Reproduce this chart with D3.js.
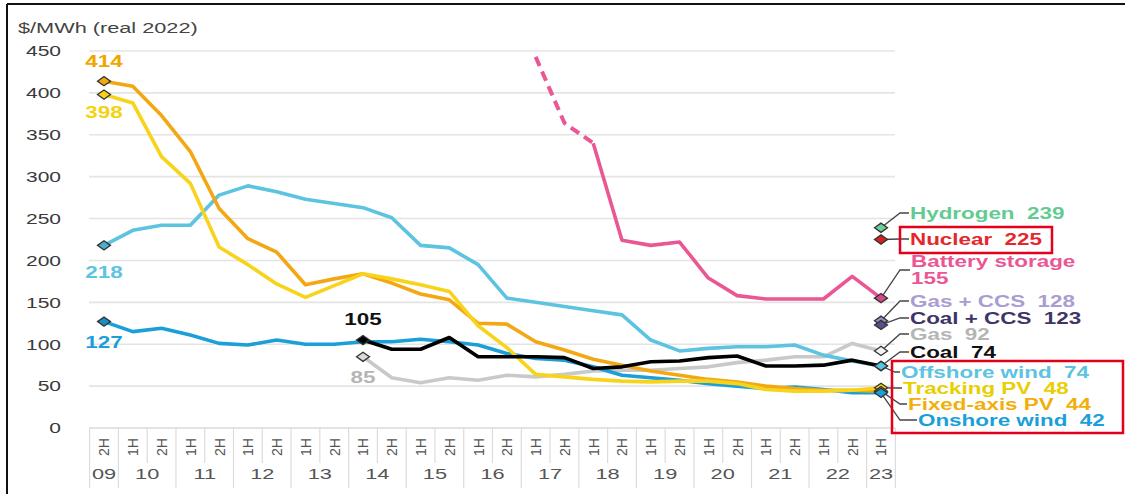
<!DOCTYPE html>
<html><head><meta charset="utf-8">
<script src="https://cdn.jsdelivr.net/npm/d3@7"></script>
<style>
body{margin:0;background:#fff;}
svg{display:block;font-family:"Liberation Sans",Arial,sans-serif;}
text{white-space:pre;}
</style>
</head><body>
<svg id="c" width="1125" height="494"></svg>
<script>
// ---------- DATA ----------
const periods = ["2H09","1H10","2H10","1H11","2H11","1H12","2H12","1H13","2H13","1H14",
  "2H14","1H15","2H15","1H16","2H16","1H17","2H17","1H18","2H18","1H19",
  "2H19","1H20","2H20","1H21","2H21","1H22","2H22","1H23"];
const yTicks = [0,50,100,150,200,250,300,350,400,450];
const yUnit = "$/MWh (real 2022)";

const trackingPV   = [398,388,324,292,216,195,172,156,170,184,178,171,163,122,96,64,61,58,56,55,56,56,53,46,44,44,45,48];
const fixedAxisPV  = [414,408,373,330,262,226,210,171,178,184,173,160,153,125,124,103,93,82,75,68,63,58,55,50,47,45,45,44];
const offshoreWind = [218,236,242,242,278,289,282,273,268,263,251,218,215,195,155,150,145,140,135,105,92,95,97,97,99,87,80,74];
const onshoreWind  = [127,115,119,111,101,99,105,100,100,103,103,106,103,99,89,83,81,73,63,60,57,53,50,47,49,46,42,42];
const coal    = [null,null,null,null,null,null,null,null,null,105,94,94,108,85,85,85,84,71,73,79,80,84,86,74,74,75,81,74];
const gas     = [null,null,null,null,null,null,null,null,null,85,60,54,60,57,63,61,64,68,69,69,71,73,78,81,85,85,101,92];
const battery = [null,null,null,null,null,null,null,null,null,null,null,null,null,null,null,443,364,340,224,218,222,179,158,154,154,154,181,155];
const batteryDashedUntil = "1H18";
const hydrogenLatest = 239;
const nuclearLatest = 225;
const gasCcsLatest = 128;
const coalCcsLatest = 123;

// ---------- STYLE / LAYOUT ----------
const C = {
  tracking:"#F8D31C", fixed:"#F3A712", offshore:"#5CC3E0", onshore:"#1B9FD9",
  coal:"#000000", gas:"#C9C9C9", battery:"#EA5794", hydrogen:"#63CB92",
  nuclear:"#E02A2A", gasccs:"#A99DD2", coalccs:"#3E3566"
};
const STR = 1.4; // horizontal text stretch of the reference
const svg = d3.select("#c");
const x = d3.scalePoint().domain(periods).range([104, 881]);
const step = x.step();
const y = d3.scaleLinear().domain([0,450]).range([428, 51]);
const gridX0 = 89, gridX1 = 895;

function stretch(sel, k){
  sel.each(function(){
    const w = this.getComputedTextLength();
    this.setAttribute("textLength", w*k);
    this.setAttribute("lengthAdjust","spacingAndGlyphs");
  });
}

// border
svg.append("line").attr("x1",7).attr("x2",1125).attr("y1",4).attr("y2",4).attr("stroke","#111").attr("stroke-width",2);
svg.append("line").attr("x1",7).attr("x2",7).attr("y1",4).attr("y2",494).attr("stroke","#111").attr("stroke-width",2);

// unit label
svg.append("text").attr("x",18).attr("y",33).attr("fill","#444").attr("font-size",15.5).text(yUnit).call(stretch, STR);

// gridlines
svg.append("g").selectAll("line").data(yTicks.filter(d=>d>0)).join("line")
  .attr("x1",gridX0).attr("x2",gridX1).attr("y1",d=>y(d)).attr("y2",d=>y(d))
  .attr("stroke","#E4E4E4").attr("stroke-width",1.6);

// y axis
const yAxis = svg.append("g").attr("transform","translate(61,0)")
  .call(d3.axisLeft(y).tickValues(yTicks).tickSize(0).tickPadding(0));
yAxis.select(".domain").remove();
yAxis.selectAll("text").attr("font-size",15).attr("fill","#3a3a3a")
  .attr("font-family","'Liberation Sans',Arial,sans-serif").call(stretch, STR);

// x axis table
const tableTop = y(0), halfBottom = 463, tableBottom = 488;
svg.append("line").attr("x1",gridX0).attr("x2",gridX1).attr("y1",tableTop).attr("y2",tableTop)
  .attr("stroke","#DADADA").attr("stroke-width",1.6);
const xAxis = svg.append("g").attr("transform",`translate(0,${tableTop})`)
  .call(d3.axisBottom(x).tickSize(0).tickFormat(p=>p.slice(0,2)));
xAxis.select(".domain").remove();
xAxis.selectAll("text")
  .attr("transform","translate(0,19) rotate(-90)")
  .attr("dy","0.35em").attr("y",0).attr("text-anchor","middle")
  .attr("font-size",14).attr("fill","#555")
  .attr("font-family","'Liberation Sans',Arial,sans-serif");
// separators
const seps = periods.map((p,i)=>({xv:x(p)-step/2, year:i===0||p.startsWith("1H")}));
seps.push({xv:x(periods[periods.length-1])+step/2, year:true});
svg.append("g").selectAll("line").data(seps).join("line")
  .attr("x1",d=>d.xv).attr("x2",d=>d.xv).attr("y1",tableTop).attr("y2",d=>d.year?tableBottom:halfBottom)
  .attr("stroke","#DCDCDC").attr("stroke-width",1.2);
// year labels
const years = [];
periods.forEach((p,i)=>{
  const yr = p.slice(2);
  let g = years.find(e=>e.yr===yr);
  if(!g){ g={yr, xs:[]}; years.push(g); }
  g.xs.push(x(p));
});
svg.append("g").selectAll("text").data(years).join("text")
  .attr("x",d=>d3.mean(d.xs)).attr("y",479).attr("text-anchor","middle")
  .attr("font-size",15).attr("fill","#555").text(d=>d.yr).call(stretch, 1.45);

// ---------- LINES ----------
function series(vals){ return periods.map((p,i)=>({p, v:vals[i]})); }
const line = d3.line().defined(d=>d.v!=null).x(d=>x(d.p)).y(d=>y(d.v));
const lw = 3.6;
function drawLine(vals, color, w){
  svg.append("path").datum(series(vals)).attr("d",line).attr("fill","none")
    .attr("stroke",color).attr("stroke-width",w||lw).attr("stroke-linejoin","round");
}
drawLine(gas, C.gas);
drawLine(offshoreWind, C.offshore);
drawLine(onshoreWind, C.onshore);
// battery: dashed part then solid
const bIdx = periods.indexOf(batteryDashedUntil);
const bs = series(battery);
svg.append("path").datum(bs.slice(0,bIdx+1)).attr("d",line).attr("fill","none")
  .attr("stroke",C.battery).attr("stroke-width",4).attr("stroke-dasharray","10,6");
svg.append("path").datum(bs.slice(bIdx)).attr("d",line).attr("fill","none")
  .attr("stroke",C.battery).attr("stroke-width",lw).attr("stroke-linejoin","round");
drawLine(fixedAxisPV, C.fixed);
drawLine(trackingPV, C.tracking);
drawLine(coal, C.coal);

// ---------- MARKERS ----------
const diamond = "M-6.5,0L0,-4.6L6.5,0L0,4.6Z";
function marker(p, v, fill){
  svg.append("path").attr("d",diamond).attr("transform",`translate(${x(p)},${y(v)})`)
    .attr("fill",fill).attr("stroke","#333").attr("stroke-width",1.3);
}
function firstIdx(a){ return a.findIndex(v=>v!=null); }

// start labels
const startLabels = [
  {vals:fixedAxisPV, color:"#F0A500", fill:C.fixed, dy:-20},
  {vals:trackingPV, color:"#F5D20F", fill:C.tracking, dy:18},
  {vals:offshoreWind, color:"#5CC3E0", fill:"#4AAFCF", dy:27},
  {vals:onshoreWind, color:"#1B9FD9", fill:"#1A8DC2", dy:21},
  {vals:coal, color:"#111", fill:"#000", dy:-21},
  {vals:gas, color:"#B5B5B5", fill:"#DADADA", dy:21}
];
startLabels.forEach(s=>{
  const i = firstIdx(s.vals), p = periods[i], v = s.vals[i];
  marker(p, v, s.fill);
  svg.append("text").attr("x",x(p)).attr("y",y(v)+s.dy+5.5).attr("text-anchor","middle")
    .attr("font-size",16).attr("font-weight","bold").attr("fill",s.color).text(v).call(stretch, STR);
});

// end markers + labels
const last = periods[periods.length-1];
const endLabels = [
  {name:"Hydrogen", v:hydrogenLatest, color:C.hydrogen, fill:"#6FCF9A", ly:213, tx:910},
  {name:"Nuclear", v:nuclearLatest, color:"#E5272B", fill:"#D92020", ly:239, tx:910},
  {name:"Battery storage", v:battery[battery.length-1], color:C.battery, fill:"#D6478A", ly:270, tx:911, twoLine:true, l1:261, l2:278},
  {name:"Gas + CCS", v:gasCcsLatest, color:"#A99DD2", fill:"#9C90C9", ly:301, tx:910},
  {name:"Coal + CCS", v:coalCcsLatest, color:"#3E3566", fill:"#5A4E8A", ly:318, tx:910},
  {name:"Gas", v:gas[gas.length-1], color:"#B5B5B5", fill:"#F2F2F2", ly:334, tx:910},
  {name:"Coal", v:coal[coal.length-1], color:"#111", fill:"#000", ly:352, tx:910},
  {name:"Offshore wind", v:offshoreWind[offshoreWind.length-1], color:"#5CC3E0", fill:C.offshore, ly:372, tx:901},
  {name:"Tracking PV", v:trackingPV[trackingPV.length-1], color:"#E9CF00", fill:C.tracking, ly:388, tx:903},
  {name:"Fixed-axis PV", v:fixedAxisPV[fixedAxisPV.length-1], color:"#F2AE0C", fill:C.fixed, ly:404, tx:908},
  {name:"Onshore wind", v:onshoreWind[onshoreWind.length-1], color:"#1B9FD9", fill:C.onshore, ly:420, tx:918}
];
// leaders first
endLabels.forEach(d=>{
  const x0 = x(last), y0 = y(d.v);
  const bx = Math.min(d.tx-6, 900);
  svg.append("path").attr("d",`M${x0},${y0}L${bx},${d.ly}L${d.tx-1},${d.ly}`)
    .attr("fill","none").attr("stroke","#444").attr("stroke-width",1.3);
});
endLabels.forEach(d=>{
  marker(last, d.v, d.fill);
});
endLabels.forEach(d=>{
  if(d.twoLine){
    svg.append("text").attr("x",d.tx).attr("y",d.l1+5.5).attr("font-size",16).attr("font-weight","bold")
      .attr("fill",d.color).text(d.name).call(stretch, STR);
    svg.append("text").attr("x",d.tx).attr("y",d.l2+5.5).attr("font-size",16).attr("font-weight","bold")
      .attr("fill",d.color).text(String(d.v)).call(stretch, STR);
  } else {
    svg.append("text").attr("x",d.tx).attr("y",d.ly+5.5).attr("font-size",16).attr("font-weight","bold")
      .attr("fill",d.color).text(d.name+"  "+d.v).call(stretch, STR);
  }
});
// red highlight boxes
svg.append("rect").attr("x",900).attr("y",227).attr("width",152).attr("height",26)
  .attr("fill","none").attr("stroke","#E3001B").attr("stroke-width",2.5);
svg.append("rect").attr("x",892).attr("y",361).attr("width",231).attr("height",72)
  .attr("fill","none").attr("stroke","#E3001B").attr("stroke-width",2.5);
</script>
</body></html>
